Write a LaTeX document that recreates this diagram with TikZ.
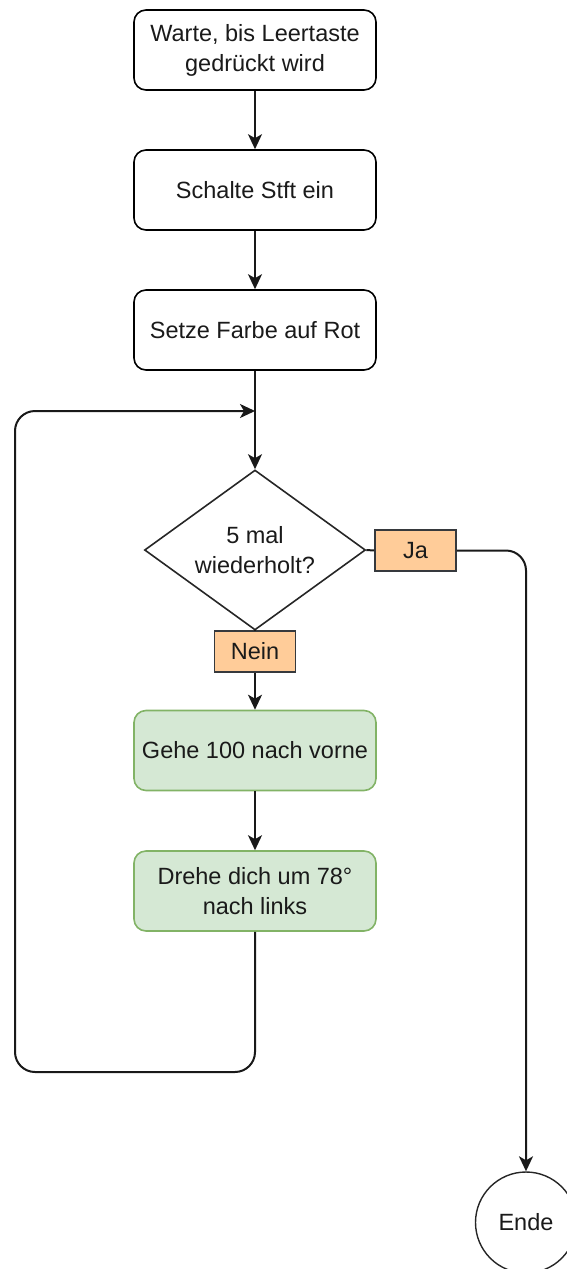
\documentclass[tikz,border=0pt]{standalone}
\usepackage{fontspec}
\setmainfont{Liberation Sans}
\usetikzlibrary{arrows.meta,shapes.geometric,positioning}

\definecolor{gfill}{HTML}{D5E8D4}
\definecolor{gline}{HTML}{82B366}
\definecolor{ofill}{HTML}{FFCC99}
\definecolor{oline}{HTML}{36393D}
\definecolor{txt}{HTML}{1A1A1A}

\tikzset{
	proc/.style={draw=black, line width=1.6pt, rounded corners=12pt, fill=white,
		minimum width=242pt, minimum height=80pt, align=center, inner sep=0pt, text=txt},
	procg/.style={proc, draw=gline, fill=gfill},
	dec/.style={draw=black!85, line width=1.6pt, diamond, aspect=1.38,
		minimum width=221pt, minimum height=160pt, inner sep=0pt, align=center, text=txt},
	lbl/.style={draw=oline, line width=1.6pt, fill=ofill, minimum width=81pt,
		minimum height=41pt, inner sep=0pt, text=txt},
	term/.style={draw=black!85, line width=1.4pt, circle, minimum size=101pt,
		inner sep=0pt, text=txt},
	conn/.style={line width=2pt, black!90},
}

\begin{document}
\begin{tikzpicture}[x=1pt,y=-1pt,>={Stealth[length=15pt,width=14pt,inset=4pt]},
	font=\fontsize{23.5}{30}\selectfont]
								\useasboundingbox (0,0) rectangle (566,1269);

								\node[proc] (warte) at (255,50) {Warte, bis Leertaste\\gedrückt wird};

								\node[proc] (stift) at (255,190) {Schalte Stft ein};

								\node[proc] (farbe) at (255,330) {Setze Farbe auf Rot};

								\node[dec] (wdh) at (255,550) {5 mal\\wiederholt?};

								\node[lbl] (ja) at (415.5,550.5) {Ja};
								\node[lbl] (nein) at (255,651.5) {Nein};

								\node[procg] (gehe) at (255,750.5) {Gehe 100 nach vorne};

								\node[procg] (drehe) at (255,891) {Drehe dich um 78°\\nach links};

								\node[term] (ende) at (526,1222.5) {Ende};

								\coordinate (loopin) at (255,411);
								\coordinate (loopbl) at (15,1072);

								\draw[conn,->] (warte) to (stift);
								\draw[conn,->] (stift) to (farbe);
								\draw[conn,->] (farbe) to (wdh);

								\draw[conn] (wdh.east) to (ja.west);
								\draw[conn,->,rounded corners=20pt] (ja.east) -| (ende.north);

								\draw[conn] (wdh.south) to (nein.north);
								\draw[conn,->] (nein) to (gehe);
								\draw[conn,->] (gehe) to (drehe);

								\draw[conn,->,rounded corners=20pt] (drehe.south) |- (loopbl) |- (loopin);

							\end{tikzpicture}
\end{document}
